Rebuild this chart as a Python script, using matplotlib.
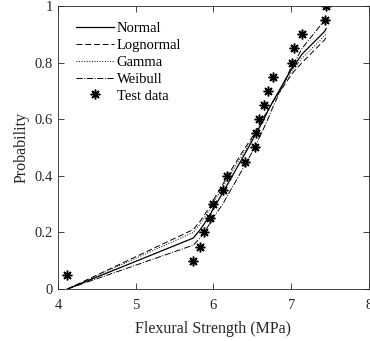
import matplotlib
matplotlib.use("Agg")
import matplotlib.pyplot as plt

plt.rcParams['font.family'] = ['Liberation Serif', 'DejaVu Serif']

strength = [4.12, 5.74, 5.83, 5.88, 5.95, 5.99, 6.12, 6.18, 6.41, 6.53,
            6.55, 6.59, 6.65, 6.70, 6.76, 7.01, 7.04, 7.14, 7.43, 7.45]
test_prob = [0.05, 0.10, 0.15, 0.20, 0.25, 0.30, 0.35, 0.40, 0.45, 0.50,
             0.55, 0.60, 0.65, 0.70, 0.75, 0.80, 0.85, 0.90, 0.95, 1.00]
normal = [0.00, 0.18, 0.21, 0.23, 0.26, 0.28, 0.34, 0.37, 0.48, 0.54,
          0.55, 0.57, 0.60, 0.63, 0.66, 0.78, 0.79, 0.83, 0.91, 0.92]
lognormal = [0.00, 0.21, 0.24, 0.26, 0.29, 0.31, 0.37, 0.40, 0.50, 0.55,
             0.56, 0.58, 0.61, 0.63, 0.66, 0.76, 0.77, 0.80, 0.88, 0.89]
gamma = [0.00, 0.20, 0.23, 0.25, 0.28, 0.30, 0.36, 0.39, 0.49, 0.545,
         0.555, 0.575, 0.605, 0.63, 0.66, 0.77, 0.78, 0.815, 0.895, 0.90]
weibull = [0.00, 0.155, 0.18, 0.20, 0.23, 0.25, 0.30, 0.33, 0.44, 0.50,
           0.51, 0.535, 0.57, 0.60, 0.64, 0.79, 0.80, 0.85, 0.95, 0.955]

xticks = [4, 5, 6, 7, 8]
yticks = [0, 0.2, 0.4, 0.6, 0.8, 1]
ytick_labels = ['0', '0.2', '0.4', '0.6', '0.8', '1']

axc = (0.15, 0.15, 0.15)
fig = plt.figure(figsize=(3.70, 3.41), dpi=100)
ax = fig.add_axes([0.157, 0.1525, 0.84, 0.83])

ax.plot(strength, normal, '-', color='k', lw=0.9, label='Normal')
ax.plot(strength, lognormal, '--', color='k', lw=0.7, dashes=(6, 3), label='Lognormal')
ax.plot(strength, gamma, ':', color='k', lw=0.7, label='Gamma')
ax.plot(strength, weibull, '-.', color='k', lw=0.7, label='Weibull')
ax.plot(strength, test_prob, linestyle='none', marker=(8, 2, 0), color='k',
        markersize=7, markeredgewidth=1.1, label='Test data')

ax.set_xlim(4, 8)
ax.set_ylim(0, 1)
ax.set_xticks(xticks)
ax.set_yticks(yticks)
ax.set_yticklabels(ytick_labels)
ax.tick_params(direction='in', top=True, right=True, labelsize=10.5,
               colors=axc, length=4, width=0.6)
ax.tick_params(axis='x', pad=7)
for s in ax.spines.values():
    s.set_color(axc)
    s.set_linewidth(0.6)
ax.set_xlabel('Flexural Strength (MPa)', fontsize=11.5, color=axc, labelpad=7)
ax.set_ylabel('Probability', fontsize=11.5, color=axc, labelpad=4)

leg = ax.legend(loc='upper left', frameon=False, fontsize=10.5,
                handlelength=2.6, handletextpad=0.2, labelspacing=0.25,
                bbox_to_anchor=(0.015, 0.99))
for t in leg.get_texts():
    t.set_color('k')

fig.savefig('out.png', dpi=100)
